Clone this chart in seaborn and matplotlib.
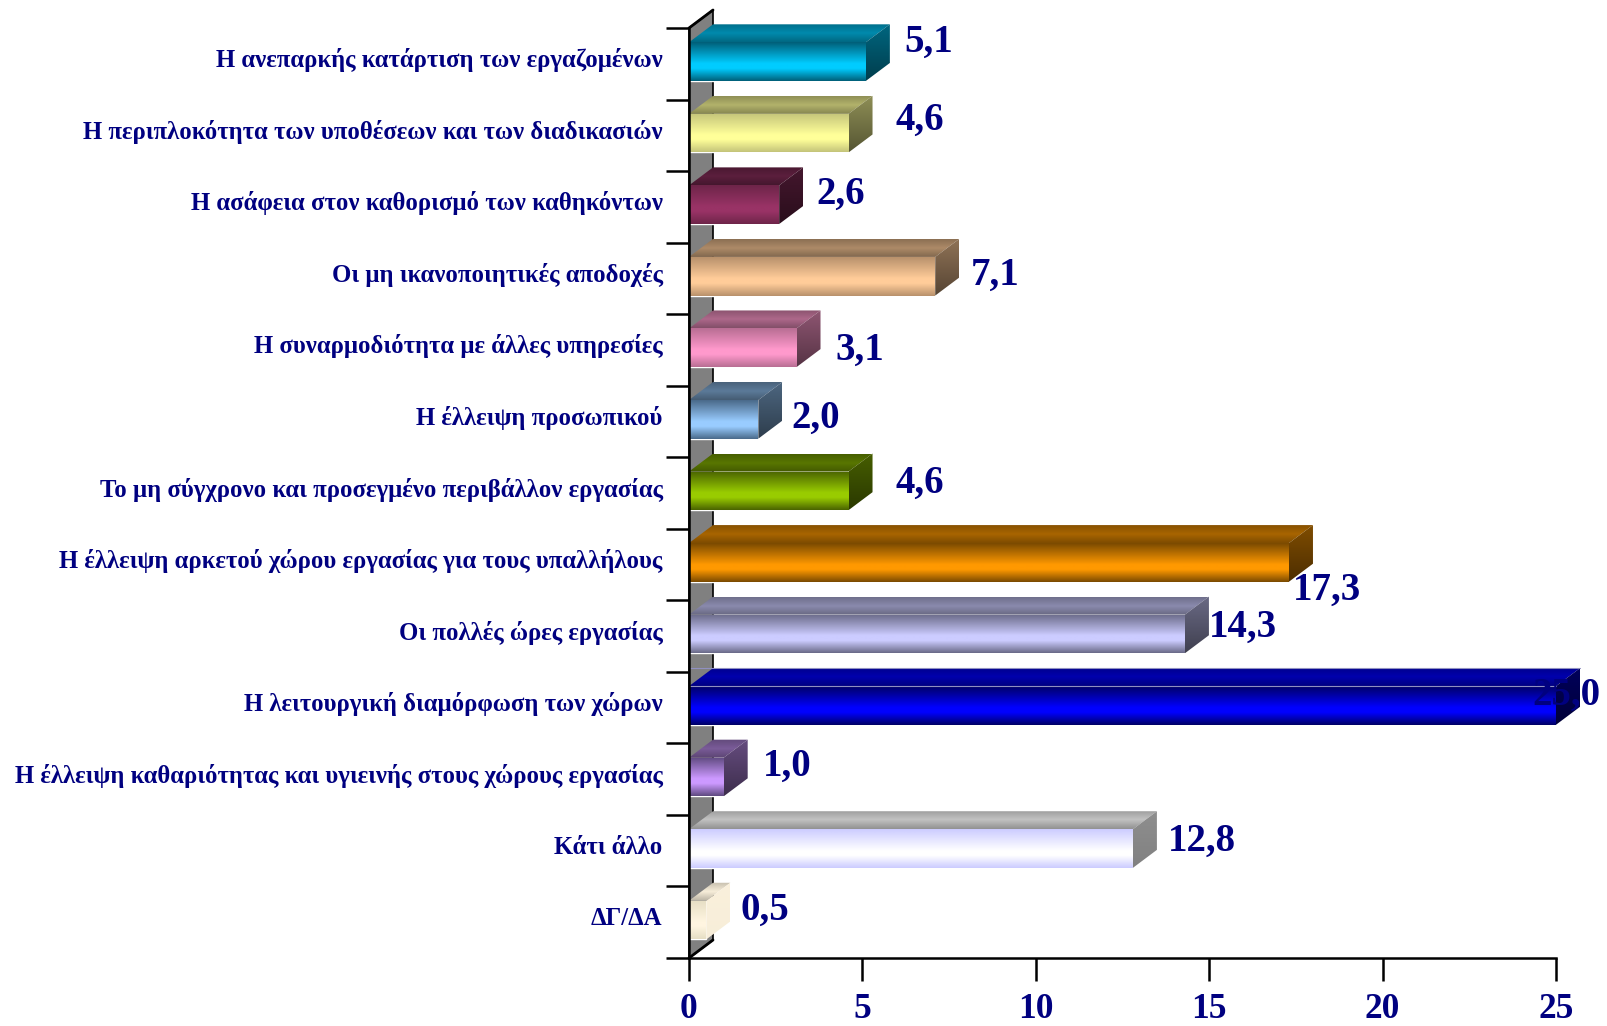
import numpy as np
import pandas as pd
import matplotlib
matplotlib.use('Agg')
import matplotlib.pyplot as plt
import seaborn as sns
from matplotlib.colors import to_rgb, LinearSegmentedColormap
from matplotlib.patches import Polygon
from matplotlib.transforms import ScaledTranslation

categories = [
    'Η ανεπαρκής κατάρτιση των εργαζομένων',
    'Η περιπλοκότητα των υποθέσεων και των διαδικασιών',
    'Η ασάφεια στον καθορισμό των καθηκόντων',
    'Οι μη ικανοποιητικές αποδοχές',
    'Η συναρμοδιότητα με άλλες υπηρεσίες',
    'Η έλλειψη προσωπικού',
    'Το μη σύγχρονο και προσεγμένο περιβάλλον εργασίας',
    'Η έλλειψη αρκετού χώρου εργασίας για τους υπαλλήλους',
    'Οι πολλές ώρες εργασίας',
    'Η λειτουργική διαμόρφωση των χώρων',
    'Η έλλειψη καθαριότητας και υγιεινής στους χώρους εργασίας',
    'Κάτι άλλο',
    'ΔΓ/ΔΑ',
]
values = [5.1, 4.6, 2.6, 7.1, 3.1, 2.0, 4.6, 17.3, 14.3, 25.0, 1.0, 12.8, 0.5]
bright = ['#00CCFF', '#FFFF99', '#993366', '#FFCC99', '#FF99CC', '#99CCFF', '#99CC00',
          '#FF9900', '#CCCCFF', '#0000FF', '#CC99FF', '#FFFFFF', '#FFF5E0']
edge = ['#005F78', '#C4C47A', '#6E2549', '#B8916C', '#B86E93', '#4A6A8A', '#4A6300',
        '#7A4A00', '#6A6A88', '#000066', '#5F4A80', '#CCCCFF', '#E6DEC4']
# how much top and side faces keep of the front colour
top_shade = [.68, .7, .6, .68, .68, .6, .58, .66, .68, .68, .6, .76, .97]
side_shade = [.5, .56, .45, .56, .56, .5, .46, .5, .52, .36, .5, .56, .98]
side_fall = [.6, .6, .6, .6, .6, .6, .6, .6, .6, .6, .6, .9, .99]
# label nudges from the bar end, pixels
label_dx = [63, 71, 62, 60, 63, 57, 71, 38, 58, 10, 64, 69, 59]
label_dy = [21, 15, 13, 3, 0, 3, 10, -26, 9, 12, 13, 9, 12]
xticks = [0, 5, 10, 15, 20, 25]

NAVY = '#000080'
DX = 24 / (867 / 25)
DY = 18 / (930 / 13)

sns.set_theme(style='white')
plt.rcParams['font.family'] = ['Liberation Serif', 'DejaVu Serif']
plt.rcParams['font.weight'] = 'bold'

fig = plt.figure(figsize=(16.08, 10.26), dpi=100)
ax = fig.add_axes([689 / 1608, 68 / 1026, 867 / 1608, 930 / 1026])

df = pd.DataFrame({'cat': categories, 'value': values})
sns.barplot(data=df, y='cat', x='value', hue='cat', palette=bright, width=0.54,
            legend=False, dodge=False, ax=ax, zorder=2)
ax.set_xlim(0, 25)
ax.set_ylim(12.5, -0.5)
ax.set_autoscale_on(False)


def gradient_face(pts, stops, z):
    # fill a polygon with a vertical colour ramp
    pts = np.array(pts)
    cmap = LinearSegmentedColormap.from_list('f', stops)
    ramp = np.linspace(0, 1, 128).reshape(-1, 1)
    im = ax.imshow(ramp, cmap=cmap, aspect='auto', vmin=0, vmax=1, zorder=z, origin='upper',
                   extent=(pts[:, 0].min(), pts[:, 0].max(), pts[:, 1].max(), pts[:, 1].min()))
    im.set_clip_box(fig.bbox)
    im.set_clip_path(Polygon(pts, transform=ax.transData))


def scale(col, k):
    return tuple(c * k for c in to_rgb(col))


# grey back wall
wall = Polygon([(0, -0.5), (DX, -0.5 - DY), (DX, 12.5 - DY), (0, 12.5)], closed=True,
               facecolor='#808080', edgecolor='black', lw=1.2, zorder=1, clip_on=False)
ax.add_patch(wall)
ax.plot([0, DX], [-0.5, -0.5 - DY], color='black', lw=2, zorder=1.5, clip_on=False)
ax.plot([0, DX], [12.5, 12.5 - DY], color='black', lw=2, zorder=1.5, clip_on=False)

for i, bar in enumerate(ax.patches[:len(values)]):
    bar.set_y(bar.get_y() - 0.03)
    x0 = bar.get_x()
    w = bar.get_width()
    y0 = bar.get_y()
    y1 = y0 + bar.get_height()
    x1 = x0 + w
    z = 3 + i * 0.01
    b, e = bright[i], edge[i]
    gradient_face([(x0, y0), (x1, y0), (x1, y1), (x0, y1)],
                  [(0, to_rgb(e)), (0.55, to_rgb(b)), (0.68, to_rgb(b)), (1, to_rgb(e))], z)
    gradient_face([(x0, y0), (x0 + DX, y0 - DY), (x1 + DX, y0 - DY), (x1, y0)],
                  [(0, scale(b, top_shade[i] * 0.8)), (0.5, scale(b, top_shade[i])),
                   (1, scale(b, top_shade[i] * 0.75))], z)
    gradient_face([(x1, y0), (x1 + DX, y0 - DY), (x1 + DX, y1 - DY), (x1, y1)],
                  [(0, scale(b, side_shade[i])), (1, scale(b, side_shade[i] * side_fall[i]))], z)
    if i == 9:
        ax.plot([x0, x1 + DX], [y0 - DY, y0 - DY], color='#9090C0', lw=0.8, zorder=z + 0.005, clip_on=False)
        ax.plot([x0, x1], [y0, y0], color='#9090C0', lw=0.8, zorder=z + 0.005, clip_on=False)
    ax.annotate(f'{values[i]:.1f}'.replace('.', ','), xy=(x1, i), xytext=(label_dx[i], label_dy[i]),
                textcoords='offset pixels', ha='center', va='center', fontsize=28,
                color=NAVY, fontweight='bold', zorder=10, annotation_clip=False)

sns.despine(ax=ax, top=True, right=True)
for side in ['left', 'bottom']:
    ax.spines[side].set_color('black')
    ax.spines[side].set_linewidth(1.8)
    ax.spines[side].set_zorder(6)

ax.set_xlabel('')
ax.set_ylabel('')
ax.set_xticks(xticks)
ax.set_xticklabels([str(t) for t in xticks], fontsize=25.5, color=NAVY, fontweight='bold')
ax.tick_params(axis='x', length=16.5, width=1.8, color='black', pad=9, bottom=True)
ax.set_yticks(range(len(categories)))
ax.set_yticklabels(categories, fontsize=17.8, color=NAVY, fontweight='bold')
ax.set_yticks(np.arange(-0.5, 13), minor=True)
ax.tick_params(axis='y', which='major', length=0, pad=19)
ax.tick_params(axis='y', which='minor', length=16.5, width=1.8, color='black', left=True)
# category labels sit a little above the band centre
shift = ScaledTranslation(0, 6 / 100, fig.dpi_scale_trans)
for lab in ax.get_yticklabels():
    lab.set_transform(lab.get_transform() + shift)

fig.savefig('out.png', dpi=100, facecolor='white')
